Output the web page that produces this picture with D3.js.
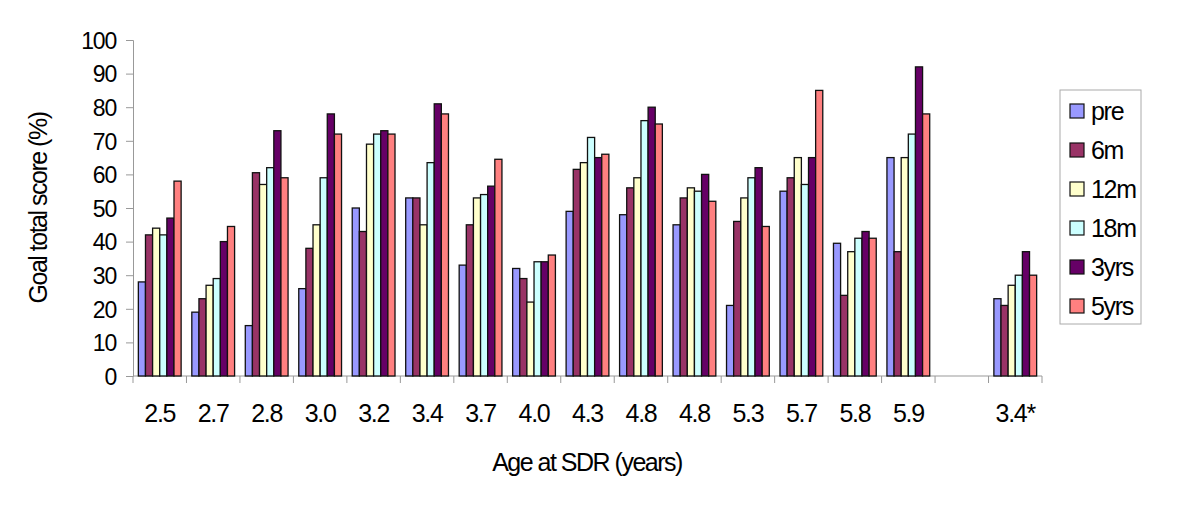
<!DOCTYPE html>
<html>
<head>
<meta charset="utf-8">
<script src="https://cdn.jsdelivr.net/npm/d3@7"></script>
<style>
  body { margin: 0; background: #fff; }
  text { font-family: "Liberation Sans", Arial, sans-serif; fill: #000; }
</style>
</head>
<body>
<svg id="chart" width="1200" height="529"></svg>
<script>
// categories (age at SDR); empty slot before the last group
var categories = ["2.5","2.7","2.8","3.0","3.2","3.4","3.7","4.0","4.3","4.8","4.8","5.3","5.7","5.8","5.9","","3.4*"];
var seriesNames = ["pre","6m","12m","18m","3yrs","5yrs"];
var seriesColors = ["#9999FF","#993366","#FFFFCC","#CCFFFF","#660066","#FF8080"];

var pre   = [28, 19, 15, 26, 50, 53, 33, 32, 49, 48, 45, 21, 55, 39.5, 65, null, 23];
var m6    = [42, 23, 60.5, 38, 43, 53, 45, 29, 61.5, 56, 53, 46, 59, 24, 37, null, 21];
var m12   = [44, 27, 57, 45, 69, 45, 53, 22, 63.5, 59, 56, 53, 65, 37, 65, null, 27];
var m18   = [42, 29, 62, 59, 72, 63.5, 54, 34, 71, 76, 55, 59, 57, 41, 72, null, 30];
var yrs3  = [47, 40, 73, 78, 73, 81, 56.5, 34, 65, 80, 60, 62, 65, 43, 92, null, 37];
var yrs5  = [58, 44.5, 59, 72, 72, 78, 64.5, 36, 66, 75, 52, 44.5, 85, 41, 78, null, 30];
var series = [pre, m6, m12, m18, yrs3, yrs5];

var yTicks = [0,10,20,30,40,50,60,70,80,90,100];

var svg = d3.select("#chart");
var plotLeft = 133, plotRight = 1042, plotTop = 40, plotBottom = 376;

var x = d3.scaleBand()
    .domain(d3.range(categories.length))
    .range([plotLeft, plotRight])
    .padding(0);

var xInner = d3.scaleBand()
    .domain(d3.range(seriesNames.length))
    .range([x.bandwidth() * 0.1, x.bandwidth() * 0.9]);

var y = d3.scaleLinear().domain([0, 100]).range([plotBottom, plotTop]);

// y axis
var yAxis = svg.append("g")
    .attr("transform", "translate(" + plotLeft + ",0)")
    .call(d3.axisLeft(y).tickValues(yTicks).tickSize(7).tickPadding(10));
yAxis.select(".domain").attr("stroke", "#999");
yAxis.selectAll(".tick line").attr("stroke", "#999");
yAxis.selectAll(".tick text")
    .style("font-size", "23px")
    .style("letter-spacing", "-1.2px")
    .attr("dy", "0.36em");

// x axis line + boundary ticks
svg.append("line")
    .attr("x1", plotLeft).attr("x2", plotRight)
    .attr("y1", plotBottom).attr("y2", plotBottom)
    .attr("stroke", "#999");

svg.append("g").selectAll("line")
    .data(d3.range(categories.length + 1))
    .enter().append("line")
    .attr("x1", function(i) { return plotLeft + i * x.step(); })
    .attr("x2", function(i) { return plotLeft + i * x.step(); })
    .attr("y1", plotBottom).attr("y2", plotBottom + 7)
    .attr("stroke", "#999");

svg.append("g").selectAll("text")
    .data(categories)
    .enter().append("text")
    .attr("x", function(d, i) { return x(i) + x.bandwidth() / 2; })
    .attr("y", 422)
    .attr("text-anchor", "middle")
    .style("font-size", "25px")
    .style("letter-spacing", "-1.3px")
    .text(function(d) { return d; });

// bars
var groups = svg.append("g").selectAll("g")
    .data(categories)
    .enter().append("g")
    .attr("transform", function(d, i) { return "translate(" + x(i) + ",0)"; });

groups.selectAll("rect")
    .data(function(d, i) {
      return series.map(function(s, k) { return {k: k, v: s[i]}; })
                   .filter(function(e) { return e.v != null; });
    })
    .enter().append("rect")
    .attr("x", function(d) { return xInner(d.k); })
    .attr("width", xInner.bandwidth())
    .attr("y", function(d) { return y(d.v); })
    .attr("height", function(d) { return y(0) - y(d.v); })
    .attr("fill", function(d) { return seriesColors[d.k]; })
    .attr("stroke", "#111")
    .attr("stroke-width", 1.3);

// axis titles
svg.append("text")
    .attr("x", 587).attr("y", 471)
    .attr("text-anchor", "middle")
    .style("font-size", "25px")
    .style("letter-spacing", "-1.5px")
    .text("Age at SDR (years)");

svg.append("text")
    .attr("transform", "translate(47,208) rotate(-90)")
    .attr("text-anchor", "middle")
    .style("font-size", "25px")
    .style("letter-spacing", "-1.5px")
    .text("Goal total score (%)");

// legend
var legend = svg.append("g");
legend.append("rect")
    .attr("x", 1060).attr("y", 90)
    .attr("width", 81).attr("height", 234)
    .attr("fill", "#fff").attr("stroke", "#aaa");

var items = legend.selectAll("g.item")
    .data(seriesNames)
    .enter().append("g")
    .attr("class", "item")
    .attr("transform", function(d, i) { return "translate(1070," + (111 + i * 39) + ")"; });

items.append("rect")
    .attr("x", 0).attr("y", -7)
    .attr("width", 14).attr("height", 14)
    .attr("fill", function(d, i) { return seriesColors[i]; })
    .attr("stroke", "#111").attr("stroke-width", 1.2);

items.append("text")
    .attr("x", 21).attr("y", 9)
    .style("font-size", "25px")
    .style("letter-spacing", "-1.3px")
    .text(function(d) { return d; });
</script>
</body>
</html>
